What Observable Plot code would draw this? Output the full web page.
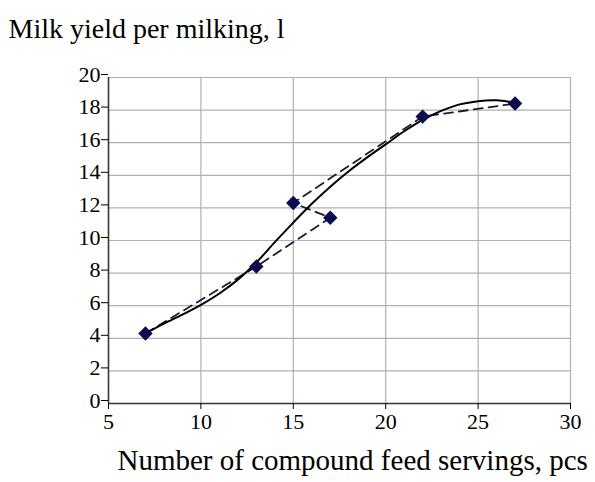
<!DOCTYPE html>
<html>
<head>
<meta charset="utf-8">
<script src="https://cdn.jsdelivr.net/npm/d3@7"></script>
<script src="https://cdn.jsdelivr.net/npm/@observablehq/plot@0.6"></script>
<style>
  html, body { margin: 0; padding: 0; background: white; }
</style>
</head>
<body>
<div id="chart"></div>
<script>
const xTicks = [5, 10, 15, 20, 25, 30];
const yTicks = [0, 2, 4, 6, 8, 10, 12, 14, 16, 18, 20];

// observed points (in the order they are connected by the dashed line)
const feedServings = [7, 13, 17, 15, 22, 27];
const milkYield = [4.3, 8.4, 11.4, 12.3, 17.6, 18.4];

// trend curve
const trendX = [7, 8, 9, 10, 11, 12, 13, 14, 15, 16, 17, 18, 19, 20, 21, 22, 23, 24, 25, 26, 27];
const trendY = [4.3, 4.9, 5.45, 6.05, 6.75, 7.6, 8.65, 9.9, 11.1, 12.25, 13.3, 14.25, 15.1, 15.9, 16.7, 17.4, 17.95, 18.35, 18.55, 18.6, 18.45];

const titleText = "Milk yield per milking, l";
const xLabelText = "Number of compound feed servings, pcs";

const points = feedServings.map((x, i) => ({x, y: milkYield[i]}));
const trend = trendX.map((x, i) => ({x, y: trendY[i]}));

const serif = "Liberation Serif";

const chart = Plot.plot({
  width: 595,
  height: 482,
  marginLeft: 108,
  marginRight: 25,
  marginTop: 77,
  marginBottom: 79,
  x: {domain: [5, 30]},
  y: {domain: [0, 20]},
  style: {fontFamily: serif, fontSize: "22px", color: "black", background: "white"},
  marks: [
    Plot.ruleX(xTicks, {stroke: "#b0b0b0", strokeWidth: 1.2}),
    Plot.ruleY(yTicks, {stroke: "#b0b0b0", strokeWidth: 1.2}),
    Plot.ruleX([5], {stroke: "#333", strokeWidth: 1.5}),
    Plot.ruleY([0], {stroke: "#333", strokeWidth: 1.5}),
    Plot.axisX({ticks: xTicks, tickSize: 6, tickPadding: 4, label: null, fontSize: 22, fontFamily: serif}),
    Plot.axisY({ticks: yTicks, tickSize: 7, tickPadding: 1, label: null, fontSize: 22, fontFamily: serif, dy: -3}),
    Plot.line(points, {x: "x", y: "y", stroke: "#1a1a3a", strokeWidth: 1.8, strokeDasharray: "9,6"}),
    Plot.line(trend, {x: "x", y: "y", curve: "catmull-rom", stroke: "black", strokeWidth: 2}),
    Plot.dot(points, {x: "x", y: "y", symbol: "diamond2", r: 6.5, fill: "#0b0b4d", stroke: "none"}),
    Plot.text([titleText], {frameAnchor: "top-left", dx: -100, dy: -59, textAnchor: "start", fontSize: 28, fontFamily: serif, fill: "black"}),
    Plot.text([xLabelText], {frameAnchor: "bottom-left", dx: 9, dy: 66, textAnchor: "start", fontSize: 29, fontFamily: serif, fill: "black"})
  ]
});
document.getElementById("chart").appendChild(chart);
</script>
</body>
</html>
